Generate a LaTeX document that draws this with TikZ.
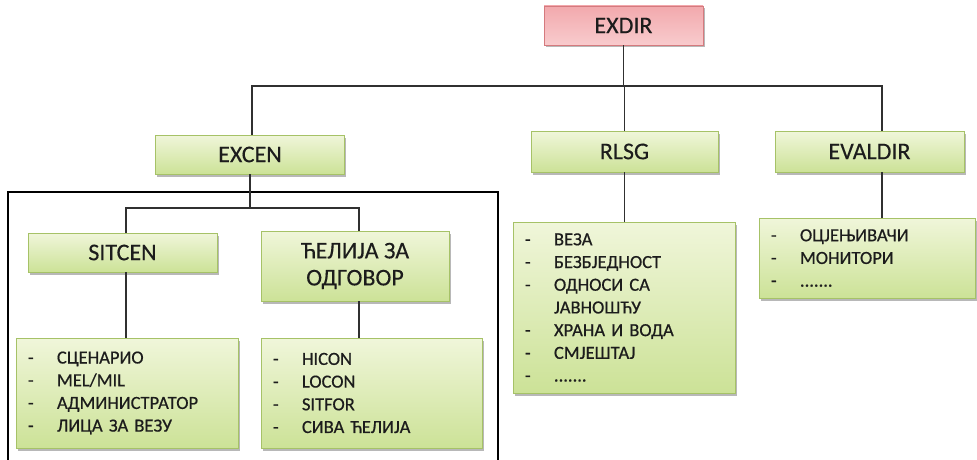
\documentclass[tikz,border=0pt]{standalone}
\usepackage{fontspec}
\setmainfont{Carlito}
\newfontfamily\headfont{Carlito}[FakeBold=0.25]
\newfontfamily\itemfont{Carlito}[FakeBold=0.6]
\usetikzlibrary{shadows}

\definecolor{txt}{HTML}{1C1C1C}
\definecolor{greenTop}{HTML}{F0F6DA}
\definecolor{greenBot}{HTML}{CCE297}
\definecolor{greenEdge}{HTML}{A6C267}
\definecolor{pinkTop}{HTML}{F2A9AD}
\definecolor{pinkBot}{HTML}{F8CBCD}
\definecolor{pinkEdge}{HTML}{D57A7E}
\definecolor{wire}{HTML}{303030}

\tikzset{
  boxbase/.style={rectangle, inner sep=0pt, text=txt, line width=0.9pt,
    drop shadow={shadow xshift=1.5pt, shadow yshift=-2.5pt, fill=black, opacity=0.28}},
  greenbox/.style={boxbase, draw=greenEdge, top color=greenTop, bottom color=greenBot},
  redbox/.style={boxbase, draw=pinkEdge, top color=pinkTop, bottom color=pinkBot},
  headbox/.style={align=center, font=\headfont\fontsize{24}{27}\selectfont},
  listbox/.style={greenbox, align=left, inner xsep=12pt, inner ysep=0pt,
    font=\itemfont\fontsize{18.5}{22.7}\selectfont},
  wireline/.style={draw=wire, line width=1.3pt},
  frame/.style={draw=black, line width=2.2pt}
}

\newcommand{\itm}[1]{\makebox[29pt][l]{-}#1}
\newcommand{\cont}[1]{\hspace*{29pt}#1}

\begin{document}
\begin{tikzpicture}[x=1pt, y=-1pt]
  \useasboundingbox (0,0) rectangle (977,460);

  % frame around the EXCEN branch (open at the lower edge)
  \draw[frame] (8,462) -- (8,192) -- (498,192) -- (498,462);

  % top level
  \node[redbox, headbox, minimum width=159pt, minimum height=39pt] (exdir) at (623.5,25.5) {EXDIR};

  % second level
  \node[greenbox, headbox, minimum width=189pt, minimum height=39pt] (excen) at (250,154.5) {EXCEN};
  \node[greenbox, headbox, minimum width=187pt, minimum height=41pt] (rlsg) at (624.5,151.5) {RLSG};
  \node[greenbox, headbox, minimum width=189pt, minimum height=41pt] (evaldir) at (869.5,151.5) {EVALDIR};

  % third level inside EXCEN
  \node[greenbox, headbox, minimum width=189pt, minimum height=39pt] (sitcen) at (122.5,252.5) {SITCEN};
  \node[greenbox, headbox, minimum width=188pt, minimum height=70pt] (cell) at (355,266) {ЋЕЛИЈА ЗА\\ОДГОВОР};

  % lists
  \node[listbox, text width=198pt, minimum height=110pt] (sitlist) at (127,393)
    {\itm{СЦЕНАРИО}\\\itm{MEL/MIL}\\\itm{АДМИНИСТРАТОР}\\\itm{ЛИЦА ЗА ВЕЗУ}};
  \node[listbox, text width=197pt, minimum height=110pt] (celllist) at (371.5,393)
    {\itm{HICON}\\\itm{LOCON}\\\itm{SITFOR}\\\itm{СИВА ЋЕЛИЈА}};
  \node[listbox, text width=198pt, minimum height=171pt] (rlsglist) at (624,307.5)
    {\itm{ВЕЗА}\\\itm{БЕЗБЈЕДНОСТ}\\\itm{ОДНОСИ СА}\\\cont{ЈАВНОШЋУ}\\\itm{ХРАНА И ВОДА}\\\itm{СМЈЕШТАЈ}\\\itm{.......}};
  \node[listbox, text width=192pt, minimum height=80pt] (evallist) at (867,258)
    {\itm{ОЦЈЕЊИВАЧИ}\\\itm{МОНИТОРИ}\\\itm{.......}};

  % connector positions
  \coordinate (bus) at (0,86);
  \coordinate (subbus) at (0,208);
  \coordinate (xa) at (252,0);
  \coordinate (xe) at (882,0);
  \coordinate (xs) at (126,0);
  \coordinate (xc) at (359,0);

  % connectors
  \draw[wireline] (exdir.south) -- (exdir.south |- bus);
  \draw[wireline] (xa |- excen.north) -- (xa |- bus) -- (xe |- bus) -- (xe |- evaldir.north);
  \draw[wireline] (rlsg.north) -- (rlsg.north |- bus);
  \draw[wireline] (excen.south) -- (excen.south |- subbus);
  \draw[wireline] (xs |- sitcen.north) -- (xs |- subbus) -- (xc |- subbus) -- (xc |- cell.north);
  \draw[wireline] (xs |- sitcen.south) -- (xs |- sitlist.north);
  \draw[wireline] (xc |- cell.south) -- (xc |- celllist.north);
  \draw[wireline] (rlsg.south) -- (rlsglist.north -| rlsg.south);
  \draw[wireline] (xe |- evaldir.south) -- (xe |- evallist.north);
\end{tikzpicture}
\end{document}
